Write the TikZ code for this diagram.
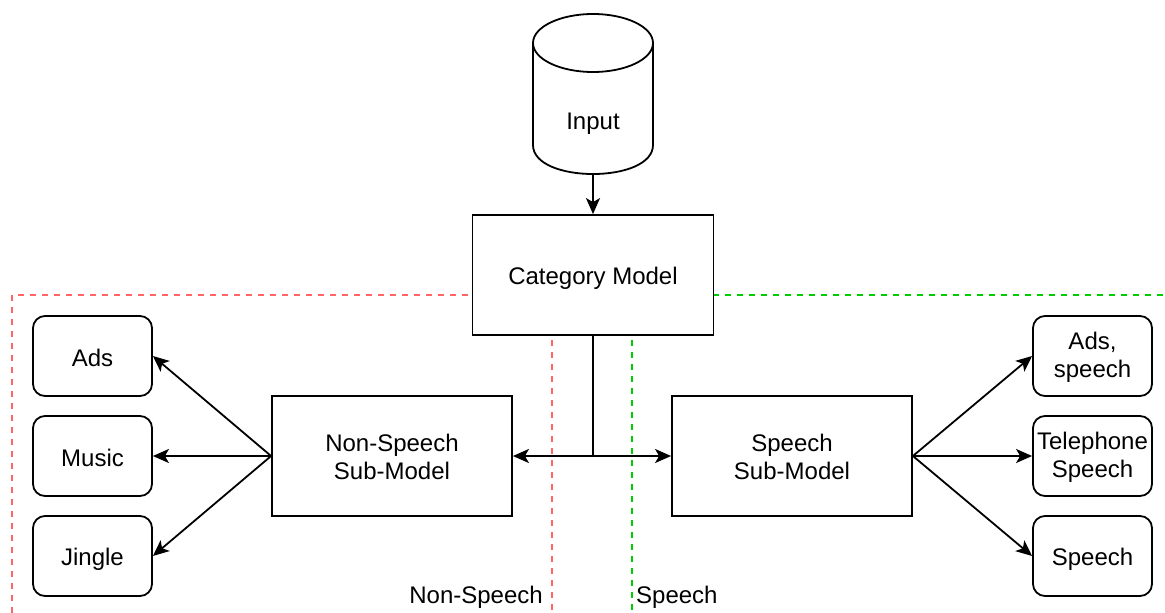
\documentclass[tikz,border=0pt]{standalone}
\usepackage{fontspec}
\setmainfont{Liberation Sans}
\usetikzlibrary{arrows.meta}
\definecolor{redd}{HTML}{FF6666}
\definecolor{grnd}{HTML}{00CC00}
\newcommand{\lowr}[2]{\raisebox{-#1}[\height][\depth]{#2}}
\tikzset{
  box/.style={draw, line width=1.8pt, minimum width=240pt, minimum height=120pt, inner sep=0pt, align=center, font=\fontsize{24}{28}\selectfont},
  rbox/.style={draw, line width=1.8pt, rounded corners=12pt, minimum width=119pt, minimum height=80pt, inner sep=0pt, align=center, font=\fontsize{24}{28}\selectfont},
  arr/.style={line width=1.8pt, -{Stealth[length=16pt, width=14pt, inset=4pt]}},
  conn/.style={line width=1.8pt},
  reddash/.style={draw=redd, line width=1.5pt, dash pattern=on 6pt off 6pt},
  grndash/.style={draw=grnd, line width=1.5pt, dash pattern=on 6pt off 6pt},
  lbl/.style={font=\fontsize{24}{28}\selectfont, inner sep=0pt},
}
\begin{document}
\begin{tikzpicture}[x=1pt, y=-1pt]
\useasboundingbox (0,0) rectangle (1165,613);
% dashed region lines
\draw[reddash] (12,613) -- (12,295) -- (472,295);
\draw[reddash] (552,340) -- (552,613);
\draw[grndash] (713,295) -- (1165,295);
\draw[grndash] (632,340) -- (632,613);
% cylinder
\draw[line width=1.8pt, fill=white] (533,43) -- (533,145) .. controls (533,183.7) and (653,183.7) .. (653,145) -- (653,43);
\draw[line width=1.8pt, fill=white] (593,43) ellipse [x radius=60, y radius=29];
\node[lbl] (input) at (593,124) {Input};
\coordinate (inputbot) at (593,174);
% main boxes
\node[box, minimum width=241pt] (cat) at (593,275) {\lowr{3pt}{Category Model}};
\node[box] (ns) at (392,456) {\lowr{1pt}{Non-Speech}\\\lowr{1pt}{Sub-Model}};
\node[box] (sp) at (792,456) {\lowr{1pt}{Speech}\\\lowr{1pt}{Sub-Model}};
% leaf boxes
\node[rbox] (ads) at (92.5,356) {\lowr{2pt}{Ads}};
\node[rbox] (music) at (92.5,456) {\lowr{2pt}{Music}};
\node[rbox] (jingle) at (92.5,556) {\lowr{3pt}{Jingle}};
\node[rbox] (adsp) at (1092.5,356) {\lowr{1pt}{Ads,}\\\lowr{1pt}{speech}};
\node[rbox] (tel) at (1092.5,456) {\lowr{1pt}{Telephone}\\\lowr{1pt}{Speech}};
\node[rbox] (speech) at (1092.5,556) {\lowr{3pt}{Speech}};
% labels
\node[lbl, anchor=east] (nslbl) at (543,597) {Non-Speech};
\node[lbl, anchor=west] (splbl) at (636,597) {Speech};
% connectors
\draw[arr] (inputbot) -- (cat.north);
\coordinate (j) at (593,456);
\draw[conn] (cat.south) -- (j);
\draw[arr] (j) -- (ns.east);
\draw[arr] (j) -- (sp.west);
\draw[arr] (ns.west) -- (ads.east);
\draw[arr] (ns.west) -- (music.east);
\draw[arr] (ns.west) -- (jingle.east);
\draw[arr] (sp.east) -- (adsp.west);
\draw[arr] (sp.east) -- (tel.west);
\draw[arr] (sp.east) -- (speech.west);
\end{tikzpicture}
\end{document}
